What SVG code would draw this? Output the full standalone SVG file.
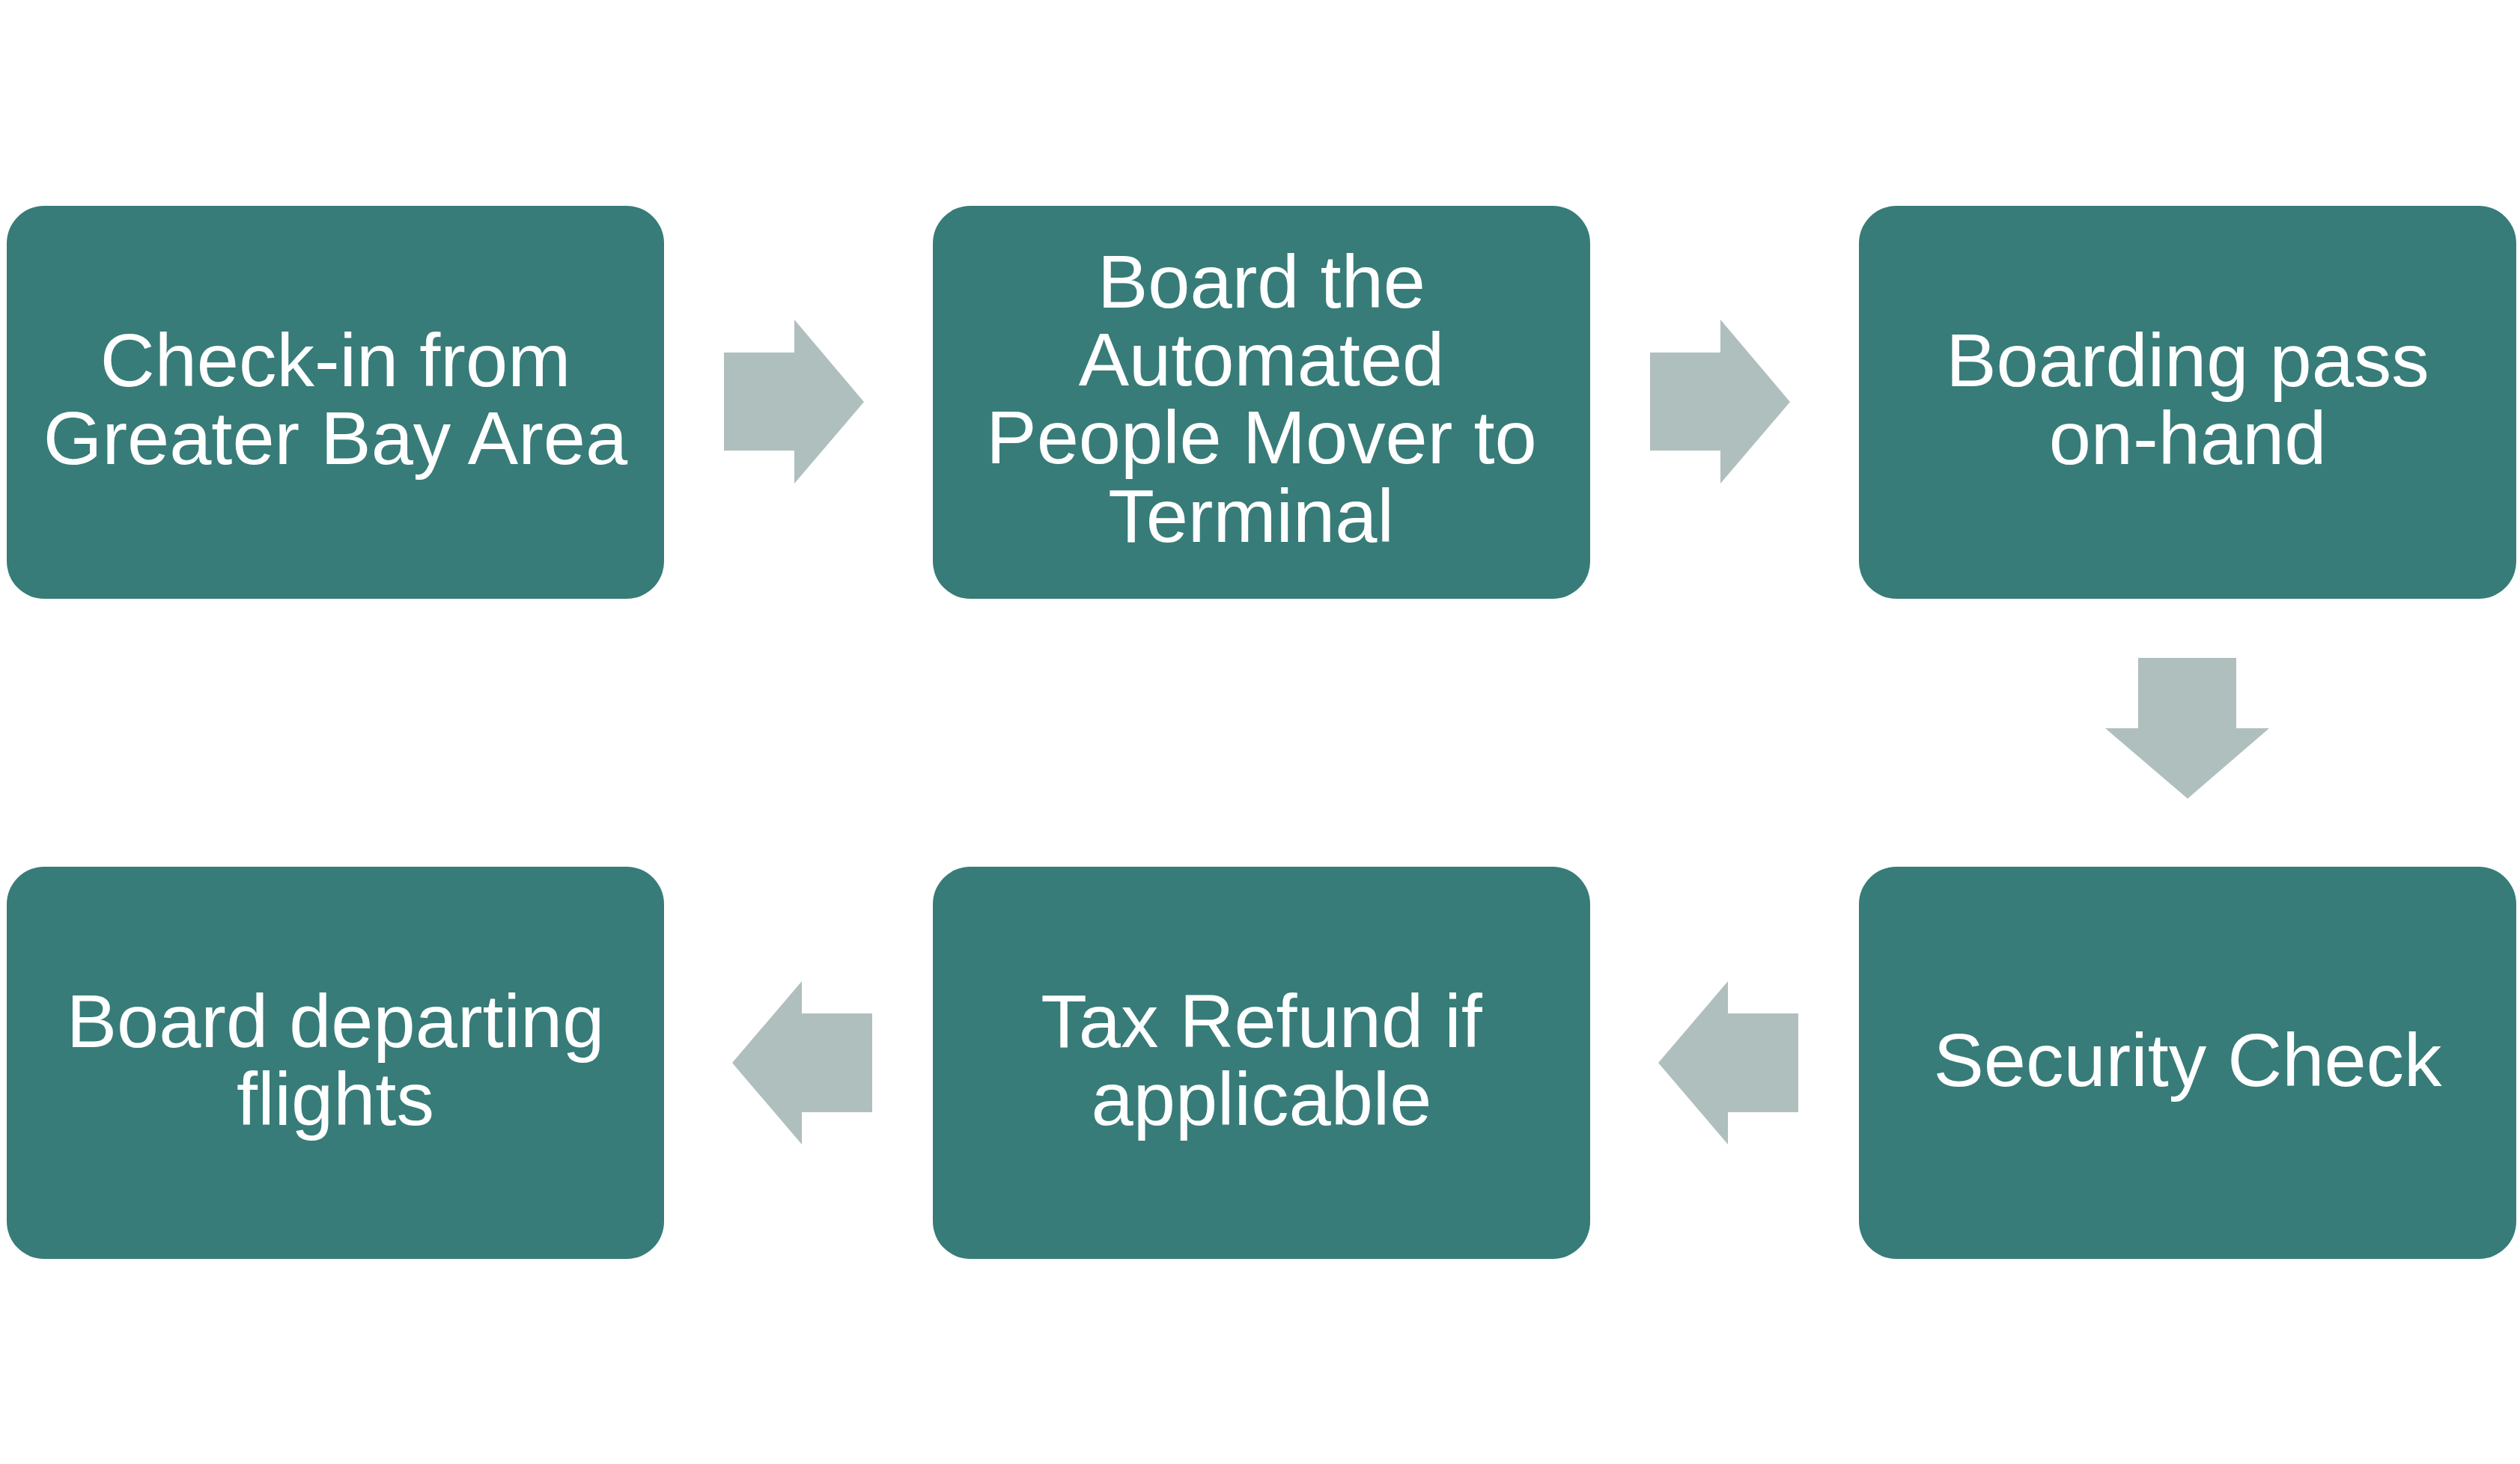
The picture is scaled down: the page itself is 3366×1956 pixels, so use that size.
<svg xmlns="http://www.w3.org/2000/svg" width="3366" height="1956" viewBox="0 0 3366 1956">
<style>
.box{fill:#377C78;}
.arr{fill:#AFBFBD;}
.lbl{font-family:"Liberation Sans",Arial,sans-serif;font-size:101px;fill:#FFFFFF;text-anchor:middle;}
</style>
<rect x="0" y="0" width="3366" height="1956" fill="#FFFFFF"/>
<g id="connectors">
<polygon class="arr" points="967,471 1061,471 1061,427 1154,537 1061,646 1061,602 967,602"/>
<polygon class="arr" points="2204,471 2298,471 2298,427 2391,537 2298,646 2298,602 2204,602"/>
<polygon class="arr" points="2856,879 2987,879 2987,973 3031,973 2922,1067 2812,973 2856,973"/>
<polygon class="arr" points="2402,1354 2308,1354 2308,1311 2215,1420 2308,1529 2308,1486 2402,1486"/>
<polygon class="arr" points="1165,1354 1071,1354 1071,1311 978,1420 1071,1529 1071,1486 1165,1486"/>
</g>
<g id="node1">
<rect class="box" x="9" y="275" width="878" height="525" rx="50" ry="50"/>
<text class="lbl" x="448"><tspan x="448" y="516">Check-in from</tspan><tspan x="448" y="620">Greater Bay Area</tspan></text>
</g>
<g id="node2">
<rect class="box" x="1246" y="275" width="878" height="525" rx="50" ry="50"/>
<text class="lbl" x="1685"><tspan x="1685" y="411">Board the</tspan><tspan x="1685" y="515">Automated</tspan><tspan x="1685" y="619">People Mover to</tspan><tspan x="1671" y="724">Terminal</tspan></text>
</g>
<g id="node3">
<rect class="box" x="2483" y="275" width="878" height="525" rx="50" ry="50"/>
<text class="lbl" x="2922"><tspan x="2922" y="516">Boarding pass</tspan><tspan x="2922" y="620">on-hand</tspan></text>
</g>
<g id="node4">
<rect class="box" x="2483" y="1158" width="878" height="524" rx="50" ry="50"/>
<text class="lbl" x="2922" y="1451">Security Check</text>
</g>
<g id="node5">
<rect class="box" x="1246" y="1158" width="878" height="524" rx="50" ry="50"/>
<text class="lbl" x="1685"><tspan x="1685" y="1399">Tax Refund if</tspan><tspan x="1685" y="1503">applicable</tspan></text>
</g>
<g id="node6">
<rect class="box" x="9" y="1158" width="878" height="524" rx="50" ry="50"/>
<text class="lbl" x="448"><tspan x="448" y="1399">Board departing</tspan><tspan x="448" y="1503">flights</tspan></text>
</g>
</svg>
